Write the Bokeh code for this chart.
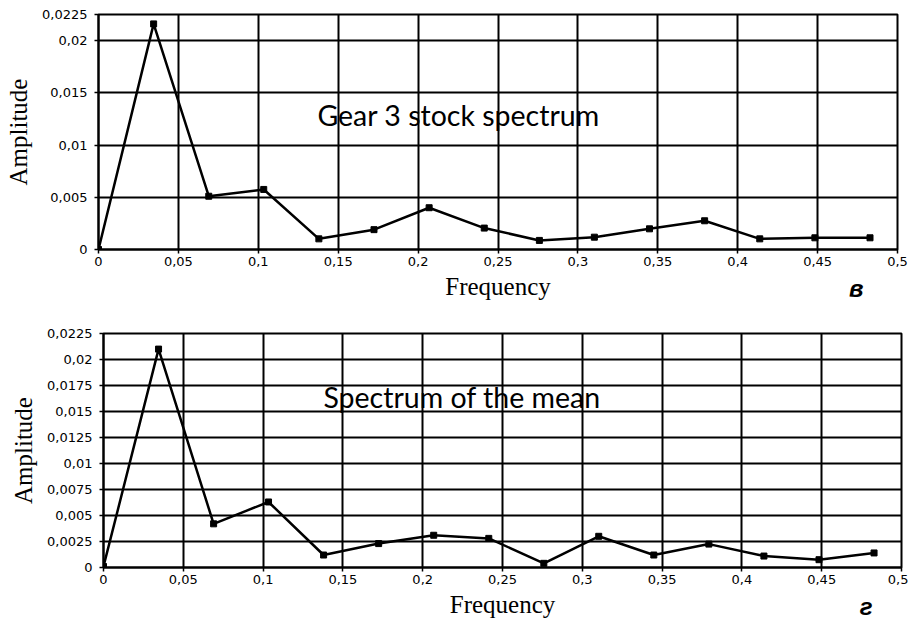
from bokeh.plotting import figure
from bokeh.models import Range1d, FixedTicker, Label, Title
from bokeh.layouts import column
from bokeh.embed import file_html
from bokeh.resources import INLINE

# ---- data ----
freq = [0.0, 0.0345, 0.069, 0.1034, 0.1379, 0.1724, 0.2069, 0.2414,
        0.2759, 0.3103, 0.3448, 0.3793, 0.4138, 0.4483, 0.4828]
gear3_amp = [0.0, 0.0216, 0.0051, 0.00575, 0.00102, 0.0019, 0.0040, 0.00205,
             0.00087, 0.00118, 0.00198, 0.00275, 0.00102, 0.00112, 0.00112]
mean_amp = [0.0001, 0.0210, 0.0042, 0.0063, 0.0012, 0.0023, 0.0031, 0.0028,
            0.0004, 0.0030, 0.0012, 0.00225, 0.0011, 0.00075, 0.0014]

x_ticks = [0, 0.05, 0.1, 0.15, 0.2, 0.25, 0.3, 0.35, 0.4, 0.45, 0.5]
x_labels = ["0", "0,05", "0,1", "0,15", "0,2", "0,25", "0,3", "0,35", "0,4", "0,45", "0,5"]
y_ticks_top = [0, 0.005, 0.01, 0.015, 0.02, 0.0225]
y_labels_top = ["0", "0,005", "0,01", "0,015", "0,02", "0,0225"]
y_ticks_bot = [0, 0.0025, 0.005, 0.0075, 0.01, 0.0125, 0.015, 0.0175, 0.02, 0.0225]
y_labels_bot = ["0", "0,0025", "0,005", "0,0075", "0,01", "0,0125", "0,015", "0,0175", "0,02", "0,0225"]

TICK_FONT = "DejaVu Sans"
SERIF = "Liberation Serif"


def make_fig(height, bl, br, bt, bb, yt, yl, amp, title, tx, ty, letter, loff, lstand):
    p = figure(width=908, height=height, output_backend="svg", toolbar_location=None,
               x_range=Range1d(0, 0.5), y_range=Range1d(0, 0.0225),
               min_border_left=bl, min_border_right=br, min_border_top=bt,
               min_border_bottom=bb, frame_align=False)
    p.background_fill_color = "white"
    p.border_fill_color = "white"
    p.outline_line_color = "black"
    p.outline_line_width = 2

    p.xaxis.ticker = FixedTicker(ticks=x_ticks)
    p.xaxis.major_label_overrides = {t: l for t, l in zip(x_ticks, x_labels)}
    p.yaxis.ticker = FixedTicker(ticks=yt)
    p.yaxis.major_label_overrides = {t: l for t, l in zip(yt, yl)}

    for ax in (p.xaxis, p.yaxis):
        ax.minor_tick_line_color = None
        ax.major_tick_in = 0
        ax.major_tick_out = 4
        ax.major_tick_line_color = "black"
        ax.major_tick_line_width = 1.5
        ax.axis_line_color = "black"
        ax.axis_line_width = 2
        ax.major_label_text_font = TICK_FONT
        ax.major_label_text_font_size = "13px"
        ax.major_label_text_color = "black"
        ax.axis_label_text_font = SERIF
        ax.axis_label_text_font_style = "normal"
        ax.axis_label_text_color = "black"
        ax.axis_label_text_font_size = "25px"

    p.xaxis.axis_label = "Frequency"
    p.yaxis.axis_label = "Amplitude"
    p.xaxis.major_label_standoff = 3
    p.xaxis.axis_label_standoff = 4
    p.yaxis.major_label_standoff = 7
    p.yaxis.axis_label_standoff = 7

    p.xgrid.grid_line_color = "black"
    p.ygrid.grid_line_color = "black"
    p.xgrid.grid_line_width = 2
    p.ygrid.grid_line_width = 2

    p.line(freq, amp, line_color="black", line_width=2.5)
    p.scatter(freq, amp, marker="square", size=6, fill_color="black", line_color="black")

    p.add_layout(Label(x=tx, y=ty, text=title, text_font="Lato",
                       text_font_size="28.5px", text_color="black",
                       text_baseline="middle", text_align="left"))
    # sub-figure letter, placed in the bottom side panel beside "Frequency"
    p.add_layout(Title(text=letter + "\n", align="right", offset=loff,
                       standoff=lstand, vertical_align="top",
                       text_font="Liberation Sans", text_font_size="24px",
                       text_font_style="bold italic", text_color="black"), "below")
    return p


p1 = make_fig(306, 98, 11, 14, 57, y_ticks_top, y_labels_top, gear3_amp,
              "Gear 3 stock spectrum", 0.137, 0.01284, "в", 34, -56)
p2 = make_fig(318, 103, 7, 27, 57, y_ticks_bot, y_labels_bot, mean_amp,
              "Spectrum of the mean", 0.1378, 0.01635, "г", 29, -56)

layout = column(p1, p2, spacing=0)
open("out.html", "w").write(file_html(layout, INLINE))
